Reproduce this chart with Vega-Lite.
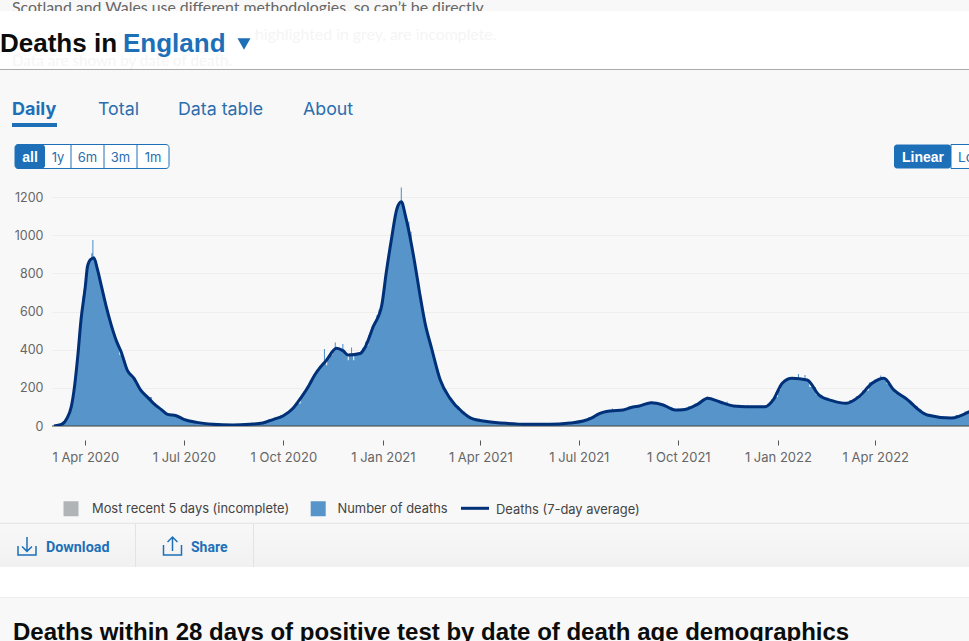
{
  "$schema": "https://vega.github.io/schema/vega-lite/v6.json",
  "width": 917,
  "height": 246,
  "autosize": "none",
  "padding": {"left": 52, "top": 180, "right": 0, "bottom": 215},
  "background": "#f8f8f8",
  "view": {"stroke": null},
  "config": {"text": {"font": "Inter", "baseline": "alphabetic"}},
  "datasets": {
    "page": [{"part": "page"}],
    "daily": [
      {"date":"2020-03-01","deaths":0},{"date":"2020-03-06","deaths":2},{"date":"2020-03-10","deaths":8},{"date":"2020-03-12","deaths":16},{"date":"2020-03-13","deaths":22},{"date":"2020-03-14","deaths":30},{"date":"2020-03-15","deaths":38},{"date":"2020-03-16","deaths":48},{"date":"2020-03-17","deaths":62},{"date":"2020-03-18","deaths":80},{"date":"2020-03-19","deaths":100},{"date":"2020-03-20","deaths":130},{"date":"2020-03-21","deaths":165},{"date":"2020-03-22","deaths":210},{"date":"2020-03-23","deaths":262},{"date":"2020-03-24","deaths":315},{"date":"2020-03-25","deaths":370},{"date":"2020-03-26","deaths":435},{"date":"2020-03-27","deaths":500},{"date":"2020-03-28","deaths":565},{"date":"2020-03-29","deaths":625},{"date":"2020-03-30","deaths":680},{"date":"2020-03-31","deaths":715},{"date":"2020-04-01","deaths":745},{"date":"2020-04-02","deaths":800},{"date":"2020-04-03","deaths":842},{"date":"2020-04-04","deaths":858},{"date":"2020-04-05","deaths":862},{"date":"2020-04-06","deaths":880},{"date":"2020-04-07","deaths":905},{"date":"2020-04-08","deaths":975},{"date":"2020-04-09","deaths":890},{"date":"2020-04-10","deaths":872},{"date":"2020-04-11","deaths":850},{"date":"2020-04-12","deaths":825},{"date":"2020-04-13","deaths":805},{"date":"2020-04-14","deaths":785},{"date":"2020-04-15","deaths":760},{"date":"2020-04-16","deaths":732},{"date":"2020-04-17","deaths":710},{"date":"2020-04-18","deaths":688},{"date":"2020-04-19","deaths":665},{"date":"2020-04-20","deaths":640},{"date":"2020-04-21","deaths":620},{"date":"2020-04-22","deaths":595},{"date":"2020-04-23","deaths":570},{"date":"2020-04-24","deaths":550},{"date":"2020-04-25","deaths":530},{"date":"2020-04-26","deaths":510},{"date":"2020-04-27","deaths":495},{"date":"2020-04-28","deaths":478},{"date":"2020-04-30","deaths":445},{"date":"2020-05-02","deaths":418},{"date":"2020-05-03","deaths":372},{"date":"2020-05-04","deaths":398},{"date":"2020-05-06","deaths":360},{"date":"2020-05-07","deaths":345},{"date":"2020-05-09","deaths":305},{"date":"2020-05-10","deaths":292},{"date":"2020-05-13","deaths":268},{"date":"2020-05-16","deaths":252},{"date":"2020-05-19","deaths":220},{"date":"2020-05-22","deaths":192},{"date":"2020-05-25","deaths":170},{"date":"2020-05-28","deaths":156},{"date":"2020-05-31","deaths":152},{"date":"2020-06-03","deaths":120},{"date":"2020-06-07","deaths":100},{"date":"2020-06-10","deaths":88},{"date":"2020-06-13","deaths":72},{"date":"2020-06-16","deaths":62},{"date":"2020-06-20","deaths":56},{"date":"2020-06-24","deaths":58},{"date":"2020-06-28","deaths":44},{"date":"2020-07-01","deaths":36},{"date":"2020-07-07","deaths":26},{"date":"2020-07-13","deaths":19},{"date":"2020-07-20","deaths":14},{"date":"2020-07-28","deaths":10},{"date":"2020-08-15","deaths":6},{"date":"2020-08-31","deaths":9},{"date":"2020-09-12","deaths":16},{"date":"2020-09-22","deaths":36},{"date":"2020-09-23","deaths":37},{"date":"2020-09-24","deaths":46},{"date":"2020-09-25","deaths":40},{"date":"2020-10-01","deaths":55},{"date":"2020-10-06","deaths":72},{"date":"2020-10-10","deaths":95},{"date":"2020-10-14","deaths":122},{"date":"2020-10-16","deaths":118},{"date":"2020-10-18","deaths":156},{"date":"2020-10-21","deaths":180},{"date":"2020-10-24","deaths":208},{"date":"2020-10-27","deaths":240},{"date":"2020-10-30","deaths":270},{"date":"2020-11-02","deaths":295},{"date":"2020-11-04","deaths":312},{"date":"2020-11-07","deaths":328},{"date":"2020-11-08","deaths":403},{"date":"2020-11-09","deaths":335},{"date":"2020-11-10","deaths":318},{"date":"2020-11-11","deaths":350},{"date":"2020-11-14","deaths":372},{"date":"2020-11-17","deaths":396},{"date":"2020-11-18","deaths":438},{"date":"2020-11-19","deaths":408},{"date":"2020-11-22","deaths":405},{"date":"2020-11-24","deaths":398},{"date":"2020-11-25","deaths":430},{"date":"2020-11-26","deaths":392},{"date":"2020-11-29","deaths":372},{"date":"2020-11-30","deaths":345},{"date":"2020-12-01","deaths":375},{"date":"2020-12-02","deaths":378},{"date":"2020-12-03","deaths":412},{"date":"2020-12-04","deaths":372},{"date":"2020-12-05","deaths":345},{"date":"2020-12-06","deaths":372},{"date":"2020-12-11","deaths":385},{"date":"2020-12-15","deaths":410},{"date":"2020-12-16","deaths":442},{"date":"2020-12-17","deaths":420},{"date":"2020-12-20","deaths":475},{"date":"2020-12-23","deaths":522},{"date":"2020-12-25","deaths":550},{"date":"2020-12-27","deaths":580},{"date":"2020-12-29","deaths":610},{"date":"2020-12-31","deaths":640},{"date":"2021-01-01","deaths":680},{"date":"2021-01-02","deaths":725},{"date":"2021-01-03","deaths":765},{"date":"2021-01-04","deaths":805},{"date":"2021-01-05","deaths":835},{"date":"2021-01-06","deaths":875},{"date":"2021-01-07","deaths":910},{"date":"2021-01-08","deaths":950},{"date":"2021-01-09","deaths":985},{"date":"2021-01-10","deaths":1020},{"date":"2021-01-11","deaths":1055},{"date":"2021-01-12","deaths":1085},{"date":"2021-01-13","deaths":1118},{"date":"2021-01-14","deaths":1145},{"date":"2021-01-15","deaths":1155},{"date":"2021-01-16","deaths":1170},{"date":"2021-01-17","deaths":1178},{"date":"2021-01-18","deaths":1250},{"date":"2021-01-19","deaths":1175},{"date":"2021-01-20","deaths":1150},{"date":"2021-01-21","deaths":1125},{"date":"2021-01-22","deaths":1102},{"date":"2021-01-23","deaths":1082},{"date":"2021-01-24","deaths":1060},{"date":"2021-01-25","deaths":1070},{"date":"2021-01-26","deaths":998},{"date":"2021-01-27","deaths":1018},{"date":"2021-01-28","deaths":940},{"date":"2021-01-29","deaths":905},{"date":"2021-01-30","deaths":870},{"date":"2021-01-31","deaths":838},{"date":"2021-02-01","deaths":800},{"date":"2021-02-02","deaths":765},{"date":"2021-02-03","deaths":730},{"date":"2021-02-04","deaths":698},{"date":"2021-02-05","deaths":665},{"date":"2021-02-06","deaths":635},{"date":"2021-02-07","deaths":600},{"date":"2021-02-08","deaths":570},{"date":"2021-02-09","deaths":540},{"date":"2021-02-10","deaths":515},{"date":"2021-02-11","deaths":492},{"date":"2021-02-12","deaths":470},{"date":"2021-02-13","deaths":448},{"date":"2021-02-14","deaths":428},{"date":"2021-02-15","deaths":410},{"date":"2021-02-16","deaths":388},{"date":"2021-02-17","deaths":362},{"date":"2021-02-18","deaths":338},{"date":"2021-02-19","deaths":315},{"date":"2021-02-20","deaths":295},{"date":"2021-02-21","deaths":275},{"date":"2021-02-22","deaths":258},{"date":"2021-02-23","deaths":243},{"date":"2021-02-24","deaths":228},{"date":"2021-02-25","deaths":212},{"date":"2021-02-26","deaths":198},{"date":"2021-02-28","deaths":178},{"date":"2021-03-02","deaths":162},{"date":"2021-03-04","deaths":148},{"date":"2021-03-07","deaths":125},{"date":"2021-03-10","deaths":105},{"date":"2021-03-15","deaths":76},{"date":"2021-03-20","deaths":52},{"date":"2021-03-25","deaths":38},{"date":"2021-04-07","deaths":25},{"date":"2021-04-25","deaths":14},{"date":"2021-05-14","deaths":9},{"date":"2021-06-04","deaths":9},{"date":"2021-06-23","deaths":16},{"date":"2021-07-05","deaths":27},{"date":"2021-07-14","deaths":46},{"date":"2021-07-20","deaths":66},{"date":"2021-07-24","deaths":73},{"date":"2021-07-30","deaths":79},{"date":"2021-07-31","deaths":80},{"date":"2021-08-01","deaths":92},{"date":"2021-08-02","deaths":78},{"date":"2021-08-11","deaths":86},{"date":"2021-08-20","deaths":102},{"date":"2021-08-26","deaths":108},{"date":"2021-09-01","deaths":116},{"date":"2021-09-05","deaths":121},{"date":"2021-09-06","deaths":128},{"date":"2021-09-07","deaths":120},{"date":"2021-09-12","deaths":116},{"date":"2021-09-17","deaths":110},{"date":"2021-09-23","deaths":98},{"date":"2021-09-28","deaths":85},{"date":"2021-10-03","deaths":90},{"date":"2021-10-07","deaths":88},{"date":"2021-10-13","deaths":104},{"date":"2021-10-19","deaths":116},{"date":"2021-10-24","deaths":132},{"date":"2021-10-27","deaths":146},{"date":"2021-10-28","deaths":154},{"date":"2021-10-29","deaths":146},{"date":"2021-11-02","deaths":136},{"date":"2021-11-08","deaths":128},{"date":"2021-11-14","deaths":118},{"date":"2021-11-15","deaths":128},{"date":"2021-11-16","deaths":114},{"date":"2021-11-21","deaths":106},{"date":"2021-11-25","deaths":104},{"date":"2021-11-26","deaths":112},{"date":"2021-11-27","deaths":102},{"date":"2021-12-03","deaths":102},{"date":"2021-12-04","deaths":110},{"date":"2021-12-05","deaths":100},{"date":"2021-12-14","deaths":102},{"date":"2021-12-20","deaths":102},{"date":"2021-12-24","deaths":116},{"date":"2021-12-28","deaths":142},{"date":"2021-12-29","deaths":150},{"date":"2021-12-30","deaths":175},{"date":"2021-12-31","deaths":152},{"date":"2022-01-02","deaths":190},{"date":"2022-01-05","deaths":226},{"date":"2022-01-09","deaths":240},{"date":"2022-01-14","deaths":252},{"date":"2022-01-19","deaths":250},{"date":"2022-01-20","deaths":272},{"date":"2022-01-21","deaths":248},{"date":"2022-01-25","deaths":244},{"date":"2022-01-26","deaths":267},{"date":"2022-01-27","deaths":242},{"date":"2022-02-02","deaths":205},{"date":"2022-02-08","deaths":164},{"date":"2022-02-14","deaths":148},{"date":"2022-02-20","deaths":135},{"date":"2022-02-26","deaths":122},{"date":"2022-03-05","deaths":120},{"date":"2022-03-11","deaths":136},{"date":"2022-03-17","deaths":156},{"date":"2022-03-23","deaths":186},{"date":"2022-03-29","deaths":228},{"date":"2022-04-02","deaths":242},{"date":"2022-04-05","deaths":246},{"date":"2022-04-06","deaths":264},{"date":"2022-04-07","deaths":250},{"date":"2022-04-09","deaths":252},{"date":"2022-04-14","deaths":220},{"date":"2022-04-16","deaths":200},{"date":"2022-04-18","deaths":186},{"date":"2022-04-20","deaths":172},{"date":"2022-04-23","deaths":166},{"date":"2022-04-26","deaths":156},{"date":"2022-04-29","deaths":145},{"date":"2022-05-02","deaths":134},{"date":"2022-05-05","deaths":120},{"date":"2022-05-08","deaths":105},{"date":"2022-05-12","deaths":88},{"date":"2022-05-15","deaths":74},{"date":"2022-05-19","deaths":59},{"date":"2022-05-28","deaths":50},{"date":"2022-06-04","deaths":44},{"date":"2022-06-10","deaths":42},{"date":"2022-06-18","deaths":58},{"date":"2022-06-27","deaths":76}
    ],
    "average": [
      {"date":"2020-03-03","average":0},{"date":"2020-03-10","average":8},{"date":"2020-03-15","average":40},{"date":"2020-03-19","average":100},{"date":"2020-03-22","average":205},{"date":"2020-03-25","average":363},{"date":"2020-03-28","average":555},{"date":"2020-04-01","average":730},{"date":"2020-04-03","average":835},{"date":"2020-04-06","average":873},{"date":"2020-04-09","average":880},{"date":"2020-04-12","average":826},{"date":"2020-04-16","average":730},{"date":"2020-04-20","average":634},{"date":"2020-04-25","average":529},{"date":"2020-04-30","average":442},{"date":"2020-05-04","average":390},{"date":"2020-05-10","average":290},{"date":"2020-05-16","average":250},{"date":"2020-05-22","average":189},{"date":"2020-05-28","average":154},{"date":"2020-06-03","average":119},{"date":"2020-06-10","average":87},{"date":"2020-06-16","average":61},{"date":"2020-06-24","average":54},{"date":"2020-07-01","average":35},{"date":"2020-07-13","average":19},{"date":"2020-07-28","average":9},{"date":"2020-08-15","average":5},{"date":"2020-08-31","average":9},{"date":"2020-09-12","average":16},{"date":"2020-09-22","average":35},{"date":"2020-10-01","average":54},{"date":"2020-10-10","average":93},{"date":"2020-10-18","average":154},{"date":"2020-10-24","average":206},{"date":"2020-10-30","average":267},{"date":"2020-11-04","average":307},{"date":"2020-11-10","average":346},{"date":"2020-11-19","average":407},{"date":"2020-11-25","average":395},{"date":"2020-11-30","average":372},{"date":"2020-12-11","average":380},{"date":"2020-12-15","average":407},{"date":"2020-12-23","average":520},{"date":"2020-12-31","average":634},{"date":"2021-01-04","average":800},{"date":"2021-01-09","average":983},{"date":"2021-01-14","average":1140},{"date":"2021-01-18","average":1175},{"date":"2021-01-22","average":1097},{"date":"2021-01-26","average":992},{"date":"2021-01-31","average":835},{"date":"2021-02-04","average":695},{"date":"2021-02-09","average":538},{"date":"2021-02-15","average":407},{"date":"2021-02-23","average":241},{"date":"2021-03-04","average":145},{"date":"2021-03-15","average":75},{"date":"2021-03-25","average":37},{"date":"2021-04-07","average":24},{"date":"2021-04-25","average":14},{"date":"2021-05-14","average":9},{"date":"2021-06-04","average":9},{"date":"2021-06-23","average":16},{"date":"2021-07-05","average":26},{"date":"2021-07-14","average":45},{"date":"2021-07-20","average":65},{"date":"2021-07-30","average":79},{"date":"2021-08-11","average":84},{"date":"2021-08-20","average":100},{"date":"2021-08-26","average":105},{"date":"2021-09-06","average":122},{"date":"2021-09-17","average":110},{"date":"2021-09-28","average":84},{"date":"2021-10-07","average":87},{"date":"2021-10-19","average":115},{"date":"2021-10-28","average":145},{"date":"2021-11-08","average":127},{"date":"2021-11-21","average":105},{"date":"2021-12-03","average":101},{"date":"2021-12-20","average":101},{"date":"2021-12-28","average":140},{"date":"2022-01-05","average":224},{"date":"2022-01-14","average":250},{"date":"2022-01-28","average":241},{"date":"2022-02-08","average":162},{"date":"2022-02-20","average":133},{"date":"2022-03-05","average":119},{"date":"2022-03-17","average":154},{"date":"2022-03-29","average":224},{"date":"2022-04-09","average":250},{"date":"2022-04-18","average":189},{"date":"2022-04-29","average":145},{"date":"2022-05-19","average":58},{"date":"2022-06-10","average":42},{"date":"2022-06-27","average":76}
    ]
  },
  "data": {"name": "page"},
  "layer": [
    {
      "data": {"name": "daily"},
      "mark": {"type": "area", "clip": true, "interpolate": "step"},
      "encoding": {
        "x": {
          "field": "date",
          "type": "temporal",
          "scale": {"type": "utc", "domain": [1583040615346, 1656251490055]},
          "axis": {
            "title": null,
            "values": [
              {"year": 2020, "month": "apr", "date": 1, "utc": true},
              {"year": 2020, "month": "jul", "date": 1, "utc": true},
              {"year": 2020, "month": "oct", "date": 1, "utc": true},
              {"year": 2021, "month": "jan", "date": 1, "utc": true},
              {"year": 2021, "month": "apr", "date": 1, "utc": true},
              {"year": 2021, "month": "jul", "date": 1, "utc": true},
              {"year": 2021, "month": "oct", "date": 1, "utc": true},
              {"year": 2022, "month": "jan", "date": 1, "utc": true},
              {"year": 2022, "month": "apr", "date": 1, "utc": true}
            ],
            "format": "%-d %b %Y",
            "offset": 14,
            "domain": false,
            "grid": false,
            "tickSize": 5,
            "tickColor": "#555555",
            "labelPadding": 6,
            "labelFont": "Inter",
            "labelFontSize": 13,
            "labelColor": "#666666",
            "labelOverlap": false
          }
        },
        "y": {
          "field": "deaths",
          "type": "quantitative",
          "scale": {"domain": [0, 1289.1], "nice": false},
          "axis": {
            "title": null,
            "values": [0, 200, 400, 600, 800, 1000, 1200],
            "format": "d",
            "grid": true,
            "gridColor": "#eeeeee",
            "domain": false,
            "ticks": false,
            "labelPadding": 9,
            "labelFont": "Inter",
            "labelFontSize": 12.5,
            "labelColor": "#666666"
          }
        },
        "color": {
          "datum": "Number of deaths",
          "scale": {
            "domain": ["Most recent 5 days (incomplete)", "Number of deaths", "Deaths (7-day average)"],
            "range": ["#b1b4b6", "#5694ca", "#003078"]
          },
          "legend": {
            "title": null,
            "orient": "none",
            "legendX": 5,
            "legendY": 321,
            "direction": "horizontal",
            "columns": 3,
            "gridAlign": "each",
            "columnPadding": 7,
            "labelOffset": 20,
            "labelFont": "Inter",
            "labelFontSize": 12.9,
            "labelColor": "#444444",
            "labelLimit": 0,
            "encode": {
              "symbols": {
                "update": {
                  "x": {"signal": "datum.value === 'Number of deaths' ? 21.2 : 14"},
                  "y": {"signal": "datum.value === 'Deaths (7-day average)' ? 3 : 7.5"},
                  "shape": {"signal": "datum.value === 'Deaths (7-day average)' ? 'stroke' : 'square'"},
                  "size": {"signal": "datum.value === 'Deaths (7-day average)' ? 784 : 144"},
                  "fill": {"signal": "datum.value === 'Deaths (7-day average)' ? 'transparent' : datum.value === 'Number of deaths' ? '#5694ca' : '#b1b4b6'"},
                  "stroke": {"signal": "datum.value === 'Deaths (7-day average)' ? '#003078' : 'transparent'"},
                  "strokeWidth": {"value": 3}
                }
              },
              "labels": {
                "update": {
                  "dx": {"signal": "datum.value === 'Number of deaths' ? 5.5 : 0"},
                  "dy": {"signal": "datum.value === 'Deaths (7-day average)' ? -3 : 0"}
                }
              }
            }
          }
        }
      }
    },
    {
      "mark": {"type": "rule", "color": "#444444", "strokeWidth": 1},
      "encoding": {"y": {"datum": 0}}
    },
    {
      "data": {"name": "average"},
      "mark": {"type": "line", "clip": true, "strokeWidth": 3, "interpolate": "monotone"},
      "encoding": {
        "x": {"field": "date", "type": "temporal"},
        "y": {"field": "average", "type": "quantitative"},
        "color": {"datum": "Deaths (7-day average)"}
      }
    },
    {
      "mark": {"type": "text", "text": "Scotland and Wales use different methodologies, so can’t be directly", "font": "Lato", "fontSize": 15.85, "align": "left", "color": "#666666"},
      "encoding": {"x": {"datum": 1579847120266, "type": "temporal"}, "y": {"datum": 2164.2}}
    },
    {
      "mark": {"type": "rect", "color": "#ffffff"},
      "encoding": {"x": {"datum": 1578889071742, "type": "temporal"}, "x2": {"datum": 1656251490055}, "y": {"datum": 2174.7}, "y2": {"datum": 1868.2}}
    },
    {
      "mark": {"type": "text", "text": "highlighted in grey, are incomplete.", "font": "Lato", "fontSize": 15.85, "align": "left", "color": "#f5f5f5"},
      "encoding": {"x": {"datum": 1599247602877, "type": "temporal"}, "y": {"datum": 2022.8}}
    },
    {
      "mark": {"type": "text", "text": "Data are shown by date of death.", "font": "Lato", "fontSize": 15.2, "align": "left", "color": "#f5f5f5"},
      "encoding": {"x": {"datum": 1579847120266, "type": "temporal"}, "y": {"datum": 1886.5}}
    },
    {
      "mark": {"type": "rule", "color": "#aaaaaa", "strokeWidth": 1},
      "encoding": {"x": {"datum": 1578889071742, "type": "temporal"}, "x2": {"datum": 1656251490055}, "y": {"datum": 1868.2}}
    },
    {
      "mark": {"type": "text", "text": "Deaths in", "font": "Liberation Sans", "fontWeight": "bold", "fontSize": 26, "align": "left", "color": "#0b0c0c"},
      "encoding": {"x": {"datum": 1578889071742, "type": "temporal"}, "y": {"datum": 1959.9}}
    },
    {
      "mark": {"type": "text", "text": "England", "font": "Liberation Sans", "fontWeight": "bold", "fontSize": 26, "align": "left", "color": "#1d70b8"},
      "encoding": {"x": {"datum": 1588709069113, "type": "temporal"}, "y": {"datum": 1959.9}}
    },
    {
      "mark": {"type": "point", "shape": "triangle-down", "size": 170, "filled": true, "opacity": 1, "color": "#1d70b8"},
      "encoding": {"x": {"datum": 1598369391730, "type": "temporal"}, "y": {"datum": 2001.8}}
    },
    {
      "mark": {"type": "text", "text": "Daily", "fontWeight": "bold", "fontSize": 18, "align": "left", "color": "#1d70b8"},
      "encoding": {"x": {"datum": 1579847120266, "type": "temporal"}, "y": {"datum": 1629.7}}
    },
    {
      "mark": {"type": "rect", "color": "#1d70b8"},
      "encoding": {"x": {"datum": 1579847120266, "type": "temporal"}, "x2": {"datum": 1583439802231}, "y": {"datum": 1587.8}, "y2": {"datum": 1566.9}}
    },
    {
      "mark": {"type": "text", "text": "Total", "fontSize": 17.8, "align": "left", "color": "#2a6ead"},
      "encoding": {"x": {"datum": 1586713134688, "type": "temporal"}, "y": {"datum": 1629.7}}
    },
    {
      "mark": {"type": "text", "text": "Data table", "fontSize": 17.8, "align": "left", "color": "#2a6ead"},
      "encoding": {"x": {"datum": 1593100124848, "type": "temporal"}, "y": {"datum": 1629.7}}
    },
    {
      "mark": {"type": "text", "text": "About", "fontSize": 17.8, "align": "left", "color": "#2a6ead"},
      "encoding": {"x": {"datum": 1603079796973, "type": "temporal"}, "y": {"datum": 1629.7}}
    },
    {
      "mark": {"type": "rect", "color": "#ffffff", "stroke": "#1d70b8", "strokeWidth": 1, "cornerRadius": 3},
      "encoding": {"x": {"datum": 1580086632397, "type": "temporal"}, "x2": {"datum": 1592381588455}, "y": {"datum": 1475.1}, "y2": {"datum": 1349.4}}
    },
    {
      "mark": {"type": "rect", "color": "#1d70b8", "cornerRadius": 3},
      "encoding": {"x": {"datum": 1580086632397, "type": "temporal"}, "x2": {"datum": 1582481753707}, "y": {"datum": 1475.1}, "y2": {"datum": 1349.4}}
    },
    {
      "mark": {"type": "rule", "color": "#1d70b8", "strokeWidth": 1},
      "encoding": {"x": {"datum": 1584557525509, "type": "temporal"}, "y": {"datum": 1475.1}, "y2": {"datum": 1349.4}}
    },
    {
      "mark": {"type": "rule", "color": "#1d70b8", "strokeWidth": 1},
      "encoding": {"x": {"datum": 1587192158950, "type": "temporal"}, "y": {"datum": 1475.1}, "y2": {"datum": 1349.4}}
    },
    {
      "mark": {"type": "rule", "color": "#1d70b8", "strokeWidth": 1},
      "encoding": {"x": {"datum": 1589826792391, "type": "temporal"}, "y": {"datum": 1475.1}, "y2": {"datum": 1349.4}}
    },
    {
      "mark": {"type": "text", "text": "all", "font": "Liberation Sans", "fontWeight": "bold", "fontSize": 14, "align": "center", "baseline": "middle", "color": "#ffffff"},
      "encoding": {"x": {"datum": 1581284193052, "type": "temporal"}, "y": {"datum": 1404.4}}
    },
    {
      "mark": {"type": "text", "text": "1y", "fontSize": 13, "align": "center", "baseline": "middle", "color": "#2a6ead"},
      "encoding": {"x": {"datum": 1583519639608, "type": "temporal"}, "y": {"datum": 1404.4}}
    },
    {
      "mark": {"type": "text", "text": "6m", "fontSize": 13, "align": "center", "baseline": "middle", "color": "#2a6ead"},
      "encoding": {"x": {"datum": 1585874842230, "type": "temporal"}, "y": {"datum": 1404.4}}
    },
    {
      "mark": {"type": "text", "text": "3m", "fontSize": 13, "align": "center", "baseline": "middle", "color": "#2a6ead"},
      "encoding": {"x": {"datum": 1588509475671, "type": "temporal"}, "y": {"datum": 1404.4}}
    },
    {
      "mark": {"type": "text", "text": "1m", "fontSize": 13, "align": "center", "baseline": "middle", "color": "#2a6ead"},
      "encoding": {"x": {"datum": 1591104190423, "type": "temporal"}, "y": {"datum": 1404.4}}
    },
    {
      "mark": {"type": "rect", "color": "#1d70b8", "cornerRadius": 3},
      "encoding": {"x": {"datum": 1650263686780, "type": "temporal"}, "x2": {"datum": 1654814417269}, "y": {"datum": 1475.1}, "y2": {"datum": 1349.4}}
    },
    {
      "mark": {"type": "rect", "color": "#ffffff", "stroke": "#1d70b8", "strokeWidth": 1},
      "encoding": {"x": {"datum": 1654814417269, "type": "temporal"}, "x2": {"datum": 1657000000000}, "y": {"datum": 1475.1}, "y2": {"datum": 1349.4}}
    },
    {
      "mark": {"type": "text", "text": "Linear", "font": "Liberation Sans", "fontWeight": "bold", "fontSize": 14, "align": "center", "baseline": "middle", "color": "#ffffff"},
      "encoding": {"x": {"datum": 1652578970713, "type": "temporal"}, "y": {"datum": 1404.4}}
    },
    {
      "mark": {"type": "text", "text": "Log", "fontSize": 13.5, "align": "left", "baseline": "middle", "color": "#2a6ead"},
      "encoding": {"x": {"datum": 1655373278908, "type": "temporal"}, "y": {"datum": 1404.4}}
    },
    {
      "mark": {
        "type": "rect",
        "color": {"gradient": "linear", "x1": 0, "y1": 0, "x2": 0, "y2": 1, "stops": [{"offset": 0, "color": "#f8f8f8"}, {"offset": 1, "color": "#f1f1f1"}]}
      },
      "encoding": {"x": {"datum": 1578889071742, "type": "temporal"}, "x2": {"datum": 1656251490055}, "y": {"datum": -510.9}, "y2": {"datum": -738.9}}
    },
    {
      "mark": {"type": "rule", "color": "#e3e3e3", "strokeWidth": 1},
      "encoding": {"x": {"datum": 1578889071742, "type": "temporal"}, "x2": {"datum": 1656251490055}, "y": {"datum": -509.9}}
    },
    {
      "mark": {"type": "rule", "color": "#e3e3e3", "strokeWidth": 1},
      "encoding": {"x": {"datum": 1589707036326, "type": "temporal"}, "y": {"datum": -510.9}, "y2": {"datum": -738.9}}
    },
    {
      "mark": {"type": "rule", "color": "#e3e3e3", "strokeWidth": 1},
      "encoding": {"x": {"datum": 1599127846812, "type": "temporal"}, "y": {"datum": -510.9}, "y2": {"datum": -738.9}}
    },
    {
      "mark": {"type": "point", "shape": "M-1,0 L-1,1 L1,1 L1,0 M0,-1 L0,0.55 M-0.55,0.05 L0,0.6 L0.55,0.05", "size": 324, "filled": false, "opacity": 1, "strokeWidth": 1.5, "color": "#1d70b8"},
      "encoding": {"x": {"datum": 1581044680921, "type": "temporal"}, "y": {"datum": -628.8}}
    },
    {
      "mark": {"type": "text", "text": "Download", "font": "Roboto", "fontWeight": "bold", "fontSize": 14.3, "align": "left", "baseline": "middle", "color": "#1d70b8"},
      "encoding": {"x": {"datum": 1582561591084, "type": "temporal"}, "y": {"datum": -639.3}}
    },
    {
      "mark": {"type": "point", "shape": "M-1,-0.1 L-1,1 L1,1 L1,-0.1 M0,0.55 L0,-1 M-0.55,-0.45 L0,-1 L0.55,-0.45", "size": 324, "filled": false, "opacity": 1, "strokeWidth": 1.5, "color": "#1d70b8"},
      "encoding": {"x": {"datum": 1592661019275, "type": "temporal"}, "y": {"datum": -628.8}}
    },
    {
      "mark": {"type": "text", "text": "Share", "font": "Roboto", "fontWeight": "bold", "fontSize": 14, "align": "left", "baseline": "middle", "color": "#1d70b8"},
      "encoding": {"x": {"datum": 1594138010749, "type": "temporal"}, "y": {"datum": -639.3}}
    },
    {
      "mark": {"type": "rect", "color": "#ffffff"},
      "encoding": {"x": {"datum": 1578889071742, "type": "temporal"}, "x2": {"datum": 1656251490055}, "y": {"datum": -738.9}, "y2": {"datum": -898.7}}
    },
    {
      "mark": {"type": "rule", "color": "#eeeeee", "strokeWidth": 1},
      "encoding": {"x": {"datum": 1578889071742, "type": "temporal"}, "x2": {"datum": 1656251490055}, "y": {"datum": -898.7}}
    },
    {
      "mark": {"type": "text", "text": "Deaths within 28 days of positive test by date of death age demographics", "font": "Liberation Sans", "fontWeight": "bold", "fontSize": 24, "align": "left", "color": "#0b0c0c"},
      "encoding": {"x": {"datum": 1579926957643, "type": "temporal"}, "y": {"datum": -1121.4}}
    }
  ]
}
